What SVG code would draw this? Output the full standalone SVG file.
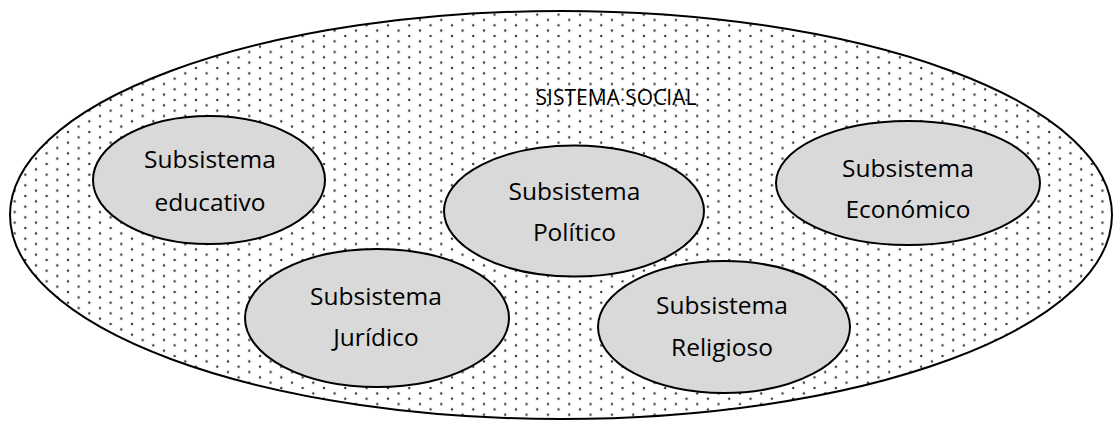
<svg xmlns="http://www.w3.org/2000/svg" width="1115" height="421" viewBox="0 0 1115 421">
  <style>
    .sub { fill: #d9d9d9; stroke: #000; stroke-width: 2; }
    .lbl { font-family: "Open Sans", "Liberation Sans", sans-serif; font-size: 24.5px; fill: #000; text-anchor: middle; }
  </style>
  <defs>
    <pattern id="dots" patternUnits="userSpaceOnUse" x="2" y="2" width="21.33" height="10.67">
      <circle cx="2" cy="2" r="1.2" fill="#333"/>
      <circle cx="12.67" cy="7.33" r="1.2" fill="#333"/>
    </pattern>
  </defs>
  <rect width="1115" height="421" fill="#fff"/>
  <g id="sistema-social">
    <ellipse cx="561" cy="215" rx="551" ry="204" fill="#fff" stroke="none"/>
    <ellipse cx="561" cy="215" rx="551" ry="204" fill="url(#dots)" stroke="#000" stroke-width="2"/>
    <text x="616" y="105" class="lbl" style="font-size:21px">SISTEMA SOCIAL</text>
  </g>
  <g id="educativo">
    <ellipse class="sub" cx="209" cy="180" rx="116" ry="64"/>
    <text class="lbl" x="210" y="168">Subsistema</text>
    <text class="lbl" x="210" y="211">educativo</text>
  </g>
  <g id="politico">
    <ellipse class="sub" cx="574" cy="211" rx="130" ry="65.5"/>
    <text class="lbl" x="574.5" y="200">Subsistema</text>
    <text class="lbl" x="574.5" y="241">Político</text>
  </g>
  <g id="economico">
    <ellipse class="sub" cx="908" cy="183" rx="132" ry="62"/>
    <text class="lbl" x="908" y="177">Subsistema</text>
    <text class="lbl" x="908" y="218">Económico</text>
  </g>
  <g id="juridico">
    <ellipse class="sub" cx="377" cy="318" rx="132" ry="69"/>
    <text class="lbl" x="376" y="305">Subsistema</text>
    <text class="lbl" x="376" y="346">Jurídico</text>
  </g>
  <g id="religioso">
    <ellipse class="sub" cx="724" cy="327" rx="126" ry="66"/>
    <text class="lbl" x="722" y="314">Subsistema</text>
    <text class="lbl" x="722" y="356">Religioso</text>
  </g>
  <g id="connectors"></g>
</svg>
